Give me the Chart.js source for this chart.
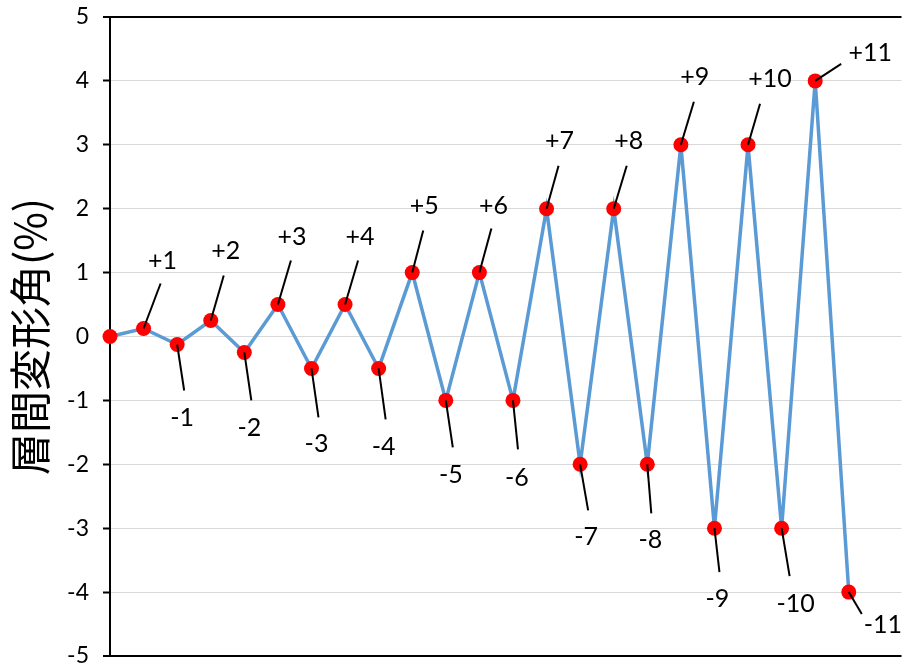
<!DOCTYPE html>
<html>
<head>
<meta charset="utf-8">
<script src="https://cdn.jsdelivr.net/npm/chart.js@4.4.1/dist/chart.umd.min.js"></script>
<style>
  html, body { margin: 0; padding: 0; background: #fff; }
  #wrap { width: 909px; height: 665px; }
</style>
</head>
<body>
<div id="wrap"><canvas id="myChart" width="909" height="665"></canvas></div>
<script>
// cycle names, one per point (first point is the origin, no label)
const cycleLabels = ['', '+1', '-1', '+2', '-2', '+3', '-3', '+4', '-4', '+5', '-5', '+6',
                     '-6', '+7', '-7', '+8', '-8', '+9', '-9', '+10', '-10', '+11', '-11'];

// story drift angle (%) for each point
const driftValues = [0, 0.125, -0.125, 0.25, -0.25, 0.5, -0.5, 0.5, -0.5, 1, -1, 1,
                     -1, 2, -2, 2, -2, 3, -3, 3, -3, 4, -4];

const yTicks = [-5, -4, -3, -2, -1, 0, 1, 2, 3, 4, 5];

// callout placement, px from the point: [leader dx, leader dy, text dx, text dy]
const labelPlacement = [
    null,
    [17, -45, 19, -69], [7, 46, 5, 73],
    [13, -45, 15, -71], [7, 48, 5, 75],
    [13, -44, 14, -69], [7, 49, 5, 75],
    [13, -44, 15, -69], [7, 51, 5, 78],
    [11, -42, 12, -68], [7, 47, 5, 74],
    [12, -44, 14, -68], [5, 49, 4, 77],
    [12, -43, 13, -69], [8, 46, 6, 72],
    [13, -43, 15, -69], [4, 49, 3, 75],
    [13, -43, 14, -69], [5, 44, 3, 70],
    [12, -41, 22, -67], [8, 48, 14, 75],
    [26, -17, 55, -29], [13, 22, 34, 32]
];

const points = driftValues.map((v, i) => ({ x: i, y: v }));

const leaderLabels = {
    id: 'leaderLabels',
    afterDatasetsDraw(chart) {
        const ctx = chart.ctx;
        const meta = chart.getDatasetMeta(0);
        ctx.save();
        ctx.strokeStyle = '#000';
        ctx.lineWidth = 2;
        ctx.fillStyle = '#000';
        ctx.font = '25px Lato';
        ctx.textAlign = 'center';
        ctx.textBaseline = 'alphabetic';
        meta.data.forEach((pt, i) => {
            const lab = cycleLabels[i];
            if (!lab) return;
            const [lx, ly, tx, ty] = labelPlacement[i];
            ctx.beginPath();
            ctx.moveTo(pt.x, pt.y);
            ctx.lineTo(pt.x + lx, pt.y + ly);
            ctx.stroke();
            ctx.fillText(lab, pt.x + tx, pt.y + ty + 9);
        });
        ctx.restore();
    }
};

const config = {
    type: 'line',
    data: {
        datasets: [{
            data: points,
            borderColor: '#5B9BD5',
            borderWidth: 3.5,
            pointBackgroundColor: '#FF0000',
            pointBorderWidth: 0,
            pointRadius: 7.5,
            tension: 0,
            clip: false
        }]
    },
    options: {
        responsive: false,
        animation: false,
        layout: { padding: { top: 17, bottom: 9, left: 0, right: 0 } },
        plugins: {
            legend: { display: false },
            tooltip: { enabled: false }
        },
        scales: {
            x: {
                type: 'linear',
                min: 0,
                max: 23.57,
                display: false
            },
            y: {
                min: yTicks[0],
                max: yTicks[yTicks.length - 1],
                afterBuildTicks: (scale) => { scale.ticks = yTicks.map(v => ({ value: v })); },
                afterFit: (scale) => {
                    scale.width = 110;
                    scale.paddingTop = 0;
                    scale.paddingBottom = 0;
                },
                border: { color: '#000', width: 2 },
                grid: {
                    color: (c) => (c.tick && Math.abs(c.tick.value) === 5) ? '#000' : '#d9d9d9',
                    lineWidth: (c) => (c.tick && Math.abs(c.tick.value) === 5) ? 2 : 1,
                    tickColor: '#000',
                    tickWidth: 2,
                    tickLength: 7
                },
                ticks: {
                    color: '#000',
                    padding: 14,
                    font: { family: 'Lato', size: 23 }
                },
                title: {
                    display: true,
                    text: '層間変形角(%)',
                    color: '#000',
                    font: { family: "'Noto Sans CJK JP'", size: 42 },
                    padding: { top: 5, bottom: 0 }
                }
            }
        }
    },
    plugins: [leaderLabels]
};

const ctx = document.getElementById('myChart').getContext('2d');
const myChart = new Chart(ctx, config);
</script>
</body>
</html>
